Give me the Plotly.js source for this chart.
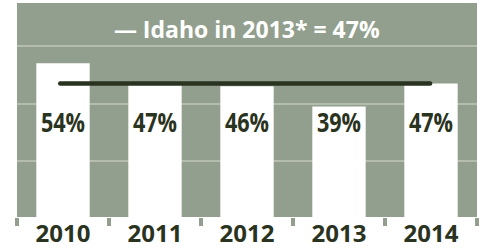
<!DOCTYPE html>
<html>
<head>
<meta charset="utf-8">
<script src="https://cdn.plot.ly/plotly-3.0.1.min.js"></script>
<style>
html,body{margin:0;padding:0;background:#fff;}
#chart{width:481px;height:248px;}
</style>
</head>
<body>
<div id="chart"></div>
<script>
// Data
const years = ['2010', '2011', '2012', '2013', '2014'];
const rates = [54, 47, 46, 39, 47];
const idahoRate = 47;
const titleText = '— Idaho in 2013* = 47%';

// Styles
const bg = '#939f8e';
const grid = '#b4bdac';
const dark = '#2a3320';
const labelY = 32.5;
const condense = 0.8;

const bars = {
  type: 'bar',
  x: years,
  y: rates,
  marker: {color: '#ffffff', line: {width: 0}},
  hoverinfo: 'none'
};

const labels = {
  type: 'scatter',
  mode: 'text',
  x: years,
  y: years.map(() => labelY),
  text: rates.map(v => v + '%'),
  textposition: 'middle center',
  textfont: {family: '"Open Sans", sans-serif', size: 27, color: dark, weight: 'bold'},
  hoverinfo: 'none'
};

const layout = {
  width: 481,
  height: 248,
  margin: {l: 17, r: 4, t: 3, b: 31},
  paper_bgcolor: '#ffffff',
  plot_bgcolor: bg,
  showlegend: false,
  bargap: 0.42,
  title: {
    text: titleText,
    font: {family: '"Open Sans", sans-serif', size: 23, color: '#ffffff', weight: 'bold'},
    x: 0.513, xanchor: 'center', xref: 'container',
    y: 1 - 30/248, yanchor: 'middle', yref: 'container'
  },
  xaxis: {
    type: 'category',
    range: [-0.5, 4.5],
    tickson: 'boundaries',
    ticks: 'outside',
    ticklen: 8,
    tickwidth: 4,
    tickcolor: bg,
    showgrid: false,
    zeroline: false,
    showline: false,
    tickfont: {family: '"Open Sans", sans-serif', size: 24, color: dark, weight: 'bold'},
    fixedrange: true
  },
  yaxis: {
    range: [0.52, 74.96],
    tickvals: [20, 40, 60],
    showticklabels: false,
    showgrid: true,
    gridcolor: grid,
    gridwidth: 2,
    zeroline: false,
    showline: false,
    fixedrange: true
  },
  shapes: [{
    type: 'line',
    xref: 'x', yref: 'y',
    x0: -0.03, x1: 3.99,
    y0: idahoRate, y1: idahoRate,
    line: {color: dark, width: 4.5}
  }]
};

Plotly.newPlot('chart', [bars, labels], layout, {staticPlot: true, displayModeBar: false}).then(() => {
  document.querySelectorAll('.shapelayer path').forEach(p => p.style.strokeLinecap = 'round');
  document.querySelectorAll('.scatterlayer .textpoint text').forEach(t => {
    const bb = t.getBBox();
    const cx = bb.x + bb.width / 2;
    const prev = t.getAttribute('transform') || '';
    t.setAttribute('transform', prev + ` translate(${cx},0) scale(${condense},1) translate(${-cx},0)`);
  });
});
</script>
</body>
</html>
